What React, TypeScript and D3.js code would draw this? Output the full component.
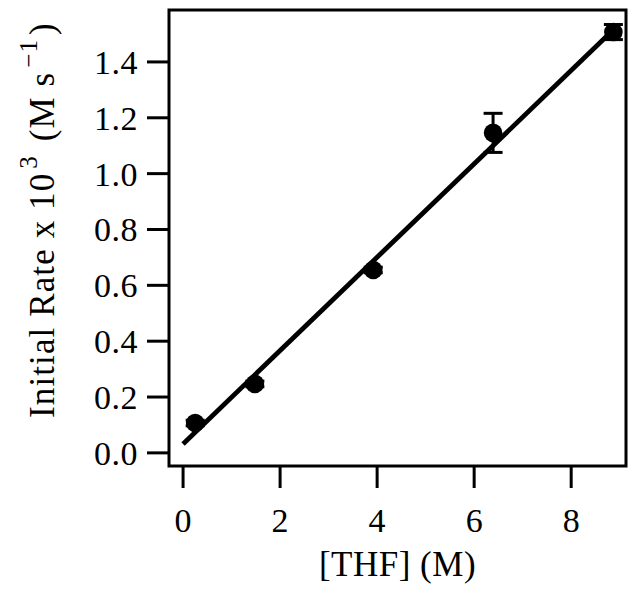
import React from "react";
import * as d3 from "d3";

const thf = [0.25, 1.48, 3.92, 6.39, 8.87];
const rate = [0.107, 0.247, 0.655, 1.146, 1.507];
const rateErr = [0.01, 0.01, 0.01, 0.07, 0.027];
const xTicks = [0, 2, 4, 6, 8];
const yTicks = [0.0, 0.2, 0.4, 0.6, 0.8, 1.0, 1.2, 1.4];
const fitIntercept = 0.032;
const fitSlope = 0.1672;
const fitRange = [0, 8.87];

const W = 636;
const H = 593;
const L = 169, R = 626, T = 10, B = 466;
const FONT = "'Liberation Serif', 'Times New Roman', serif";

export default function App() {
  const x = d3.scaleLinear().domain([-0.29, 9.13]).range([L, R]);
  const y = d3.scaleLinear().domain([-0.047, 1.586]).range([B, T]);
  const fitLine = d3.line<number>().x((d) => x(d)).y((d) => y(fitIntercept + fitSlope * d));
  const capW = 9.5;
  return (
    <svg width={W} height={H} style={{ position: "absolute", left: 0, top: 0, background: "#fff" }} fontFamily={FONT}>
      <rect x={0} y={0} width={W} height={H} fill="#fff" />
      <path d={fitLine(fitRange) || ""} stroke="#000" strokeWidth={4.8} fill="none" />
      {thf.map((d, i) => (
        <g key={i}>
          <line x1={x(d)} x2={x(d)} y1={y(rate[i] - rateErr[i])} y2={y(rate[i] + rateErr[i])} stroke="#000" strokeWidth={3} />
          <line x1={x(d) - capW} x2={x(d) + capW} y1={y(rate[i] + rateErr[i])} y2={y(rate[i] + rateErr[i])} stroke="#000" strokeWidth={3} />
          <line x1={x(d) - capW} x2={x(d) + capW} y1={y(rate[i] - rateErr[i])} y2={y(rate[i] - rateErr[i])} stroke="#000" strokeWidth={3} />
          <circle cx={x(d)} cy={y(rate[i])} r={9.3} fill="#000" />
        </g>
      ))}
      <rect x={L} y={T} width={R - L} height={B - T} fill="none" stroke="#000" strokeWidth={3} />
      {yTicks.map((t) => (
        <g key={"y" + t}>
          <line x1={L - 22} x2={L} y1={y(t)} y2={y(t)} stroke="#000" strokeWidth={3} />
          <text x={138} y={y(t)} dy="0.35em" textAnchor="end" fontSize={34} letterSpacing={0.5}>
            {t.toFixed(1)}
          </text>
        </g>
      ))}
      {xTicks.map((t) => (
        <g key={"x" + t}>
          <line x1={x(t)} x2={x(t)} y1={B} y2={B + 22} stroke="#000" strokeWidth={3} />
          <text x={x(t)} y={532} textAnchor="middle" fontSize={34}>
            {t}
          </text>
        </g>
      ))}
      <text x={(L + R) / 2} y={576} textAnchor="middle" fontSize={35} letterSpacing={0.5}>
        [THF] (M)
      </text>
      <text transform={`translate(54,220) rotate(-90)`} textAnchor="middle" fontSize={35} letterSpacing={1.1}>
        Initial Rate x 10
        <tspan fontSize={25} dy={-17} dx={4}>3</tspan>
        <tspan dy={17} dx={4}> (M s</tspan>
        <tspan fontSize={25} dy={-17} dx={4}>−1</tspan>
        <tspan dy={17} dx={4}>)</tspan>
      </text>
    </svg>
  );
}
